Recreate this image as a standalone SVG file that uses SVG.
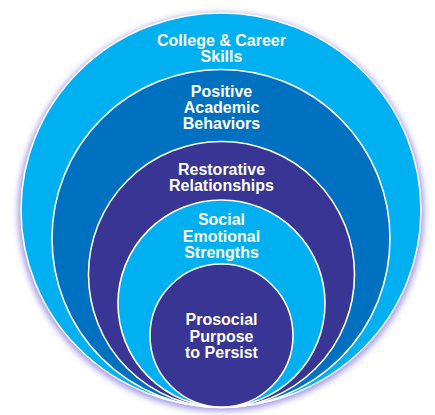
<svg xmlns="http://www.w3.org/2000/svg" width="435" height="415" viewBox="0 0 435 415">
  <defs>
    <filter id="glow" x="-10%" y="-10%" width="120%" height="120%">
      <feGaussianBlur stdDeviation="3"/>
    </filter>
    <style>
      .ring { stroke: #ffffff; stroke-width: 1.6; }
      .lb { fill: #00b0f0; }
      .db { fill: #0070c0; }
      .pu { fill: #383594; }
      .lbl { font-family: "Liberation Sans", Arial, sans-serif; font-weight: bold; font-size: 16px; fill: #ffffff; text-anchor: middle; }
    </style>
  </defs>
  <rect width="435" height="415" fill="#ffffff"/>
  <ellipse cx="221" cy="212" rx="203" ry="199" fill="#a198e6" filter="url(#glow)"/>
  <g id="college-career-skills">
    <ellipse class="ring lb" cx="221" cy="210" rx="200" ry="197"/>
    <text class="lbl" x="221.5" y="46">College &amp; Career</text>
    <text class="lbl" x="221.5" y="62">Skills</text>
  </g>
  <g id="positive-academic-behaviors">
    <circle class="ring db" cx="221" cy="238.5" r="169"/>
    <text class="lbl" x="221.5" y="97">Positive</text>
    <text class="lbl" x="221.5" y="113">Academic</text>
    <text class="lbl" x="221.5" y="129">Behaviors</text>
  </g>
  <g id="restorative-relationships">
    <circle class="ring pu" cx="221.5" cy="274.5" r="133"/>
    <text class="lbl" x="221.5" y="175">Restorative</text>
    <text class="lbl" x="221.5" y="191">Relationships</text>
  </g>
  <g id="social-emotional-strengths">
    <circle class="ring lb" cx="221.5" cy="303.5" r="103.5"/>
    <text class="lbl" x="221.5" y="225">Social</text>
    <text class="lbl" x="221.5" y="242">Emotional</text>
    <text class="lbl" x="221.5" y="258">Strengths</text>
  </g>
  <g id="prosocial-purpose">
    <circle class="ring pu" cx="221.5" cy="335.5" r="71.5"/>
    <text class="lbl" x="221.5" y="325">Prosocial</text>
    <text class="lbl" x="221.5" y="342">Purpose</text>
    <text class="lbl" x="221.5" y="358">to Persist</text>
  </g>
</svg>
